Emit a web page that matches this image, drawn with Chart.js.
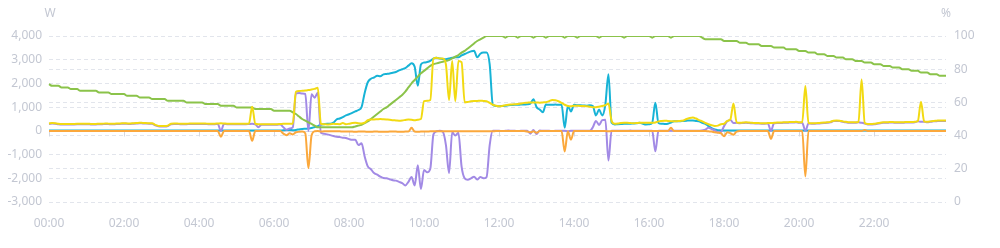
<!DOCTYPE html>
<html>
<head>
<meta charset="utf-8">
<script src="https://cdn.jsdelivr.net/npm/chart.js@4.4.1/dist/chart.umd.min.js"></script>
<style>
  html, body { margin: 0; padding: 0; background: #fff; }
  #wrap { width: 1000px; height: 248px; position: relative; }
</style>
</head>
<body>
<div id="wrap"><canvas id="powerChart"></canvas></div>
<script>
// ============================================
// DATA - one point every 5 minutes, one row per hour
// ============================================
const timeLabels = [];
for (let m = 0; m < 24 * 60; m += 5) {
    timeLabels.push(String(Math.floor(m / 60)).padStart(2, '0') + ':' + String(m % 60).padStart(2, '0'));
}

const leftTicks = [-3000, -2000, -1000, 0, 1000, 2000, 3000, 4000];   // W
const rightTicks = [0, 20, 40, 60, 80, 100];                          // %

// PV power (W)
const pvPower = [
    10,10,10,10,10,10,10,10,10,10,10,10,
    10,10,10,10,10,10,10,10,10,10,10,10,
    10,10,10,10,10,10,10,10,10,10,10,10,
    10,10,10,10,10,10,10,10,10,10,10,10,
    10,10,10,10,10,10,10,10,10,10,10,10,
    10,10,10,10,10,10,10,10,10,10,10,10,
    10,10,10,30,40,40,30,40,60,80,90,100,
    120,160,200,260,280,300,300,350,480,520,580,650,
    700,760,820,880,1000,1600,2050,2200,2250,2320,2300,2380,
    2400,2420,2450,2480,2550,2600,2650,2750,2850,2700,1900,2800,
    2880,2900,2950,3050,3080,3050,3030,3020,3050,3080,3100,3100,
    3180,3240,3300,3350,3380,3100,3250,3300,3300,2800,1100,1050,
    1040,1050,1060,1080,1090,1100,1100,1110,1110,1120,1150,1330,
    1000,900,780,1110,1100,1100,1110,1100,1100,130,1050,820,
    1100,1080,1080,1070,1060,1080,1050,650,900,650,1100,2390,
    340,270,280,290,300,300,300,310,320,340,300,270,
    280,340,1190,330,300,290,300,350,410,400,410,420,
    430,440,440,420,400,340,300,200,120,60,30,20,
    10,10,10,10,10,10,10,10,10,10,10,10,
    10,10,10,10,10,10,10,10,10,10,10,10,
    10,10,10,10,10,10,10,10,10,10,10,10,
    10,10,10,10,10,10,10,10,10,10,10,10,
    10,10,10,10,10,10,10,10,10,10,10,10,
    10,10,10,10,10,10,10,10,10,10,10,10
];

// Load power (W)
const loadPower = [
    310,330,320,300,290,290,285,285,290,295,300,300,
    300,295,290,290,300,300,310,305,300,300,310,315,
    320,315,310,320,330,340,335,330,320,320,250,210,
    200,200,220,300,310,310,300,300,300,310,310,310,
    310,310,310,300,300,300,310,320,310,300,300,300,
    300,300,300,300,310,1020,300,280,280,280,280,280,
    280,280,290,300,300,300,300,1650,1680,1690,1700,1720,
    1740,1770,1820,300,280,270,280,300,290,280,330,280,
    300,330,340,320,310,350,450,480,480,490,500,490,
    480,470,450,440,430,440,460,480,470,450,470,500,
    1250,1270,1300,3050,3080,3050,3050,2800,1300,2950,1250,2950,
    2900,1200,1220,1250,1260,1260,1270,1260,1250,1180,1100,1060,
    1040,1050,1080,1100,1110,1120,1130,1150,1180,1190,1200,1200,
    1200,1190,1200,1210,1250,1300,1290,1250,1180,1100,1050,1040,
    1060,1060,1050,1050,1040,1020,1000,1000,1020,1050,1080,1150,
    420,300,310,330,340,340,330,320,330,340,340,340,
    340,340,350,400,420,430,420,410,400,410,420,440,
    500,540,560,520,450,400,330,280,240,210,220,280,
    300,420,480,1150,360,340,350,360,350,340,330,330,
    320,320,330,330,340,350,350,360,360,370,370,380,
    360,360,1890,330,320,320,330,340,350,360,380,430,
    440,430,400,380,360,360,360,380,2170,330,290,290,
    300,320,340,360,360,370,370,360,360,360,370,370,
    370,380,420,1230,400,380,400,420,430,440,440,440
];

// Battery power (W), negative = charging
const batteryPower = [
    290,310,300,280,270,270,265,265,270,275,280,280,
    280,275,270,270,280,280,290,285,280,280,290,295,
    300,295,290,300,310,320,315,310,300,300,230,190,
    180,180,200,280,290,290,280,280,280,290,290,290,
    290,290,290,280,280,280,290,0,290,280,280,280,
    280,280,280,280,290,300,280,150,260,260,260,260,
    260,260,270,150,50,100,150,1580,1600,1580,1560,0,
    1540,1400,1610,-80,-120,-150,-180,-220,-250,-260,-290,-300,
    -350,-380,-370,-600,-520,-1080,-1500,-1620,-1780,-1850,-1930,-1990,
    -2000,-2040,-2080,-2100,-2150,-2200,-2300,-2150,-1950,-2300,-1450,-2450,
    -1650,-1750,-1600,-150,-20,0,-40,-600,-1780,-60,-200,-80,
    -1500,-2000,-2060,-2000,-1930,-2050,-1950,-2000,-1950,-600,0,0,
    0,-10,0,10,0,0,-10,0,0,0,-120,40,
    -130,20,0,0,0,-10,0,0,0,0,-20,0,
    0,0,0,0,0,0,150,420,250,450,470,-1250,
    0,0,0,0,0,0,10,0,0,0,0,0,
    0,0,-860,0,0,0,0,0,0,0,0,0,
    0,0,0,0,0,20,50,130,80,20,-60,-40,
    200,400,460,330,340,320,330,340,330,320,310,310,
    300,300,310,0,320,330,330,340,340,350,350,360,
    340,340,0,310,300,300,310,320,330,340,360,410,
    420,410,380,360,340,340,340,360,340,310,270,270,
    280,300,320,340,340,350,350,340,340,340,350,350,
    350,360,400,380,380,360,380,400,410,420,420,420
];

// Grid power (W)
const gridPower = [
    -10,-10,-5,-10,-10,-10,-5,-10,-10,-10,-10,-10,
    -10,-5,-10,-10,-10,-10,-10,-5,-10,-10,-10,-10,
    -10,-10,-10,-10,-5,-10,-10,-10,-10,-10,-10,-10,
    -10,-10,-10,-5,-10,-10,-10,-10,-10,-10,-10,-10,
    -10,-10,-10,-10,-10,-10,-10,-250,-10,-10,-10,-10,
    -10,-10,-10,-10,-10,-420,-10,-10,-10,-10,-10,-10,
    -10,-10,-10,-120,-180,-100,-150,-60,-40,-30,-100,-1570,
    -200,-20,-10,-30,-20,-20,-20,-20,-20,-20,-30,-30,
    -30,-30,-40,-30,-30,-30,-40,-40,-30,-30,-40,-40,
    -40,-30,-30,-30,-40,-40,-30,-30,130,-30,-40,-30,
    -30,-30,-20,-20,-20,-20,-20,-20,-20,-20,-20,-20,
    -20,-20,-20,-20,-20,-20,-20,-20,-20,-20,-20,-10,
    -10,-10,-10,-10,-10,-10,-10,-10,-10,-30,-60,-20,
    -80,-10,-10,-10,-10,-10,-10,-10,-10,-870,-20,-370,
    -10,-10,-10,-10,-10,-10,-10,-10,-10,-10,-10,-20,
    -10,-10,-10,-10,-10,-10,-10,-10,-10,-10,-10,-10,
    -10,-10,-10,-10,-10,-10,-10,130,-10,-10,-10,-10,
    -10,-10,-10,-10,-10,-10,-10,-20,-30,-60,-80,-100,
    -230,-60,-100,-160,-30,-10,-10,-10,-10,-10,-10,-10,
    -10,-10,-10,-340,-10,-10,-10,-10,-10,-10,-10,-10,
    -10,-10,-1925,-10,-10,-10,-10,-10,-10,-10,-10,-10,
    -10,-10,-10,-10,-10,-10,-10,-10,-10,40,-10,-10,
    -10,-10,-10,-10,-10,-10,-10,-10,-10,-10,-10,-10,
    -10,-10,-10,-10,-10,-10,-10,-10,-10,-10,-10,-10
];

// Battery state of charge (%)
const batterySoc = [
    71,70,70,70,69,69,69,68,68,68,67,67,
    67,67,67,67,66,66,66,66,65,65,65,65,
    65,64,64,64,64,63,63,63,63,62,62,62,
    62,62,61,61,61,61,61,61,60,60,60,60,
    60,60,59,59,59,59,59,58,58,58,58,58,
    57,57,57,57,57,57,56,56,56,56,56,56,
    55,55,55,55,55,55,54,53,51.5,50,49,48,
    47,46,45,45,45,45,45,45,45,45,45,45,
    45,45,45.5,46,46.5,47.5,48.5,50,51.5,53,54.5,56,
    57,58.5,60,61.5,63,64.5,66.5,69,71.5,73.5,75.5,77.5,
    79,80.5,82,83,83.5,84,84.5,85,85.5,86.5,87.5,88.5,
    90,91,92.5,94,95.5,97,98,99,100,100,100,100,
    100,100,99,100,100,100,99,100,100,100,100,99,
    100,100,100,99,100,100,100,100,100,99,100,100,
    100,99,100,100,100,100,100,100,99,100,100,100,
    100,100,100,100,99,100,100,100,100,100,100,100,
    100,99,100,100,100,100,100,99,100,100,100,100,
    100,100,100,100,100,99,98,98,98,98,98,98,
    97,97,97,97,97,96,96,96,95,95,95,95,
    94,94,94,94,93,93,93,93,92,92,92,92,
    91,91,91,90,90,90,89,89,89,88,88,88,
    87,87,87,86,86,86,85,85,85,84,84,84,
    83,83,83,82,82,82,81,81,81,80,80,80,
    79,79,79,78,78,78,77,77,77,76,76,76
];

// ============================================
// STYLE
// ============================================
const TEXT_COLOR = '#c3c7d2';
const GRID_COLOR = '#e2e5ec';
const AXIS_COLOR = '#d6d9e1';
const FONT = { family: "'Noto Sans', 'Open Sans', sans-serif", size: 12 };

function lineSet(label, data, color, axis) {
    return {
        label: label,
        data: data,
        yAxisID: axis,
        borderColor: color,
        backgroundColor: color,
        borderWidth: 2,
        pointRadius: 0,
        pointHoverRadius: 0,
        cubicInterpolationMode: 'monotone',
        fill: false
    };
}

// zero axis line, little ticks, and the unit titles
const axisExtras = {
    id: 'axisExtras',
    beforeDatasetsDraw(chart) {
        const { ctx, chartArea: a, scales } = chart;
        const y0 = Math.round(scales.y.getPixelForValue(0)) + 0.5;
        ctx.save();
        ctx.strokeStyle = AXIS_COLOR;
        ctx.lineWidth = 1;
        ctx.beginPath();
        ctx.moveTo(a.left, y0);
        ctx.lineTo(a.right, y0);
        scales.x.ticks.forEach(t => {
            const x = Math.round(scales.x.getPixelForValue(t.value)) + 0.5;
            ctx.moveTo(x, y0);
            ctx.lineTo(x, y0 + 5);
        });
        ctx.stroke();
        ctx.restore();
    },
    afterDraw(chart) {
        const { ctx, chartArea: a } = chart;
        ctx.save();
        ctx.fillStyle = TEXT_COLOR;
        ctx.font = `${FONT.size}px ${FONT.family}`;
        ctx.textAlign = 'center';
        ctx.textBaseline = 'middle';
        ctx.fillText('W', a.left + 1, 14);
        ctx.fillText('%', a.right, 14);
        ctx.restore();
    }
};

// ============================================
// CHART
// ============================================
new Chart(document.getElementById('powerChart'), {
    type: 'line',
    data: {
        labels: timeLabels,
        datasets: [
            lineSet('Load', loadPower, '#f2da12', 'y'),
            lineSet('SOC', batterySoc, '#8bc34a', 'y1'),
            lineSet('Grid', gridPower, '#fba83c', 'y'),
            lineSet('Battery', batteryPower, '#a28ae5', 'y'),
            lineSet('PV', pvPower, '#17b3d6', 'y')
        ]
    },
    options: {
        responsive: true,
        maintainAspectRatio: false,
        animation: false,
        layout: { padding: { top: 36, left: 0, right: 0, bottom: 0 } },
        plugins: {
            legend: { display: false },
            tooltip: { enabled: false }
        },
        scales: {
            x: {
                grid: { display: false },
                border: { display: false },
                ticks: {
                    color: TEXT_COLOR,
                    font: FONT,
                    padding: 6,
                    maxRotation: 0,
                    autoSkip: false
                },
                afterBuildTicks: s => { s.ticks = s.ticks.filter(t => t.value % 24 === 0); },
                afterFit: s => { s.height = 46; }
            },
            y: {
                position: 'left',
                min: leftTicks[0],
                max: leftTicks[leftTicks.length - 1],
                ticks: {
                    stepSize: 1000,
                    color: TEXT_COLOR,
                    font: FONT,
                    padding: 7,
                    callback: v => v.toLocaleString('en-US')
                },
                grid: {
                    color: c => (c.tick && c.tick.value === 0) ? 'rgba(0,0,0,0)' : GRID_COLOR,
                    drawTicks: false
                },
                border: { display: false, dash: [4, 3] },
                afterFit: s => { s.width = 49; }
            },
            y1: {
                position: 'right',
                min: rightTicks[0],
                max: rightTicks[rightTicks.length - 1],
                ticks: {
                    stepSize: 20,
                    color: TEXT_COLOR,
                    font: FONT,
                    padding: 8
                },
                grid: { color: GRID_COLOR, drawTicks: false },
                border: { display: false, dash: [4, 3] },
                afterFit: s => { s.width = 54; }
            }
        }
    },
    plugins: [axisExtras]
});
</script>
</body>
</html>
